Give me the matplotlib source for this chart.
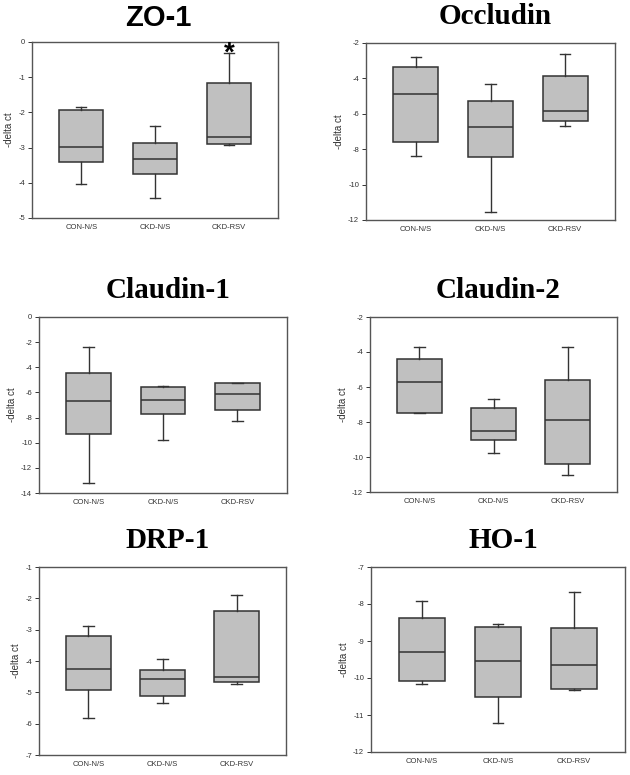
import matplotlib
matplotlib.use("Agg")
import matplotlib.pyplot as plt

plt.rcParams['axes.unicode_minus'] = False
plt.rcParams['font.family'] = ['Liberation Sans', 'DejaVu Sans']

groups = ['CON-N/S', 'CKD-N/S', 'CKD-RSV']

# per panel: [whisker low, q1, median, q3, whisker high] for each group
zo1 = [[-4.02, -3.42, -2.98, -1.92, -1.85],
       [-4.42, -3.75, -3.31, -2.86, -2.40],
       [-2.92, -2.89, -2.70, -1.17, -0.31]]
occludin = [[-8.37, -7.58, -4.88, -3.33, -2.79],
            [-11.55, -8.43, -6.77, -5.27, -4.31],
            [-6.70, -6.42, -5.85, -3.84, -2.60]]
claudin1 = [[-13.21, -9.31, -6.66, -4.43, -2.41],
            [-9.81, -7.72, -6.58, -5.54, -5.52],
            [-8.30, -7.43, -6.10, -5.28, -5.26]]
claudin2 = [[-7.47, -7.47, -5.71, -4.42, -3.70],
            [-9.75, -9.01, -8.50, -7.18, -6.67],
            [-11.05, -10.38, -7.87, -5.62, -3.73]]
drp1 = [[-5.83, -4.93, -4.27, -3.21, -2.87],
        [-5.34, -5.11, -4.59, -4.28, -3.93],
        [-4.72, -4.66, -4.50, -2.39, -1.89]]
ho1 = [[-10.16, -10.08, -9.31, -8.37, -7.91],
       [-11.22, -10.51, -9.55, -8.63, -8.54],
       [-10.32, -10.29, -9.64, -8.65, -7.68]]

titles = ['ZO-1', 'Occludin', 'Claudin-1', 'Claudin-2', 'DRP-1', 'HO-1']
panels = [zo1, occludin, claudin1, claudin2, drp1, ho1]
ylims = [(-5, 0), (-12, -2), (-14, 0), (-12, -2), (-7, -1), (-12, -7)]
ysteps = [1, 2, 2, 2, 1, 1]

W, H = 630, 775
# axes boxes in pixels: left, top, right, bottom
boxes = [(32, 42, 278, 218), (366, 43, 615, 220),
         (39, 317, 287, 493), (370, 317, 617, 492),
         (39, 567, 286, 755), (371, 567, 625, 752)]

fig = plt.figure(figsize=(W / 100, H / 100), dpi=100)

for i, (title, data) in enumerate(zip(titles, panels)):
    l, t, r, b = boxes[i]
    ax = fig.add_axes([l / W, 1 - b / H, (r - l) / W, (b - t) / H])
    stats = []
    for g, v in zip(groups, data):
        stats.append({'label': g, 'whislo': v[0], 'q1': v[1], 'med': v[2],
                      'q3': v[3], 'whishi': v[4], 'fliers': []})
    lc = '#333333'
    ax.bxp(stats, positions=[0, 1, 2], widths=0.6, capwidths=0.14,
           patch_artist=True, showfliers=False,
           boxprops=dict(facecolor='#c0c0c0', edgecolor=lc, linewidth=1.1),
           medianprops=dict(color=lc, linewidth=1.1),
           whiskerprops=dict(color=lc, linewidth=1.0),
           capprops=dict(color=lc, linewidth=1.0))
    ax.set_xlim(-2 / 3, 2 + 2 / 3)
    lo, hi = ylims[i]
    ax.set_ylim(lo, hi)
    ax.set_yticks(range(hi, lo - 1, -ysteps[i]))
    ax.tick_params(axis='y', labelsize=5.5, length=3, width=0.7, colors='#333333', pad=2)
    ax.tick_params(axis='x', labelsize=5.5, length=0, pad=4, colors='#333333')
    ax.set_ylabel('-delta ct', fontsize=7, color='#333333', labelpad=3)
    for s in ax.spines.values():
        s.set_color('#555555')
        s.set_linewidth(1.0)
    if title == 'ZO-1':
        fig.text(((l + r) / 2 + 3) / W, 1 - 18 / H, title, ha='center', va='center',
                 fontsize=21, fontweight='bold', family='Liberation Sans')
        # significance mark over CKD-RSV
        ax.text(2, -0.34, '*', ha='center', va='center', fontsize=20,
                fontweight='bold', color='black')
    else:
        fig.text(((l + r) / 2 + 5) / W, 1 - (t - 27) / H, title, ha='center', va='center',
                 fontsize=21, fontweight='bold', family='Liberation Serif')

fig.savefig('out.png', dpi=100)
